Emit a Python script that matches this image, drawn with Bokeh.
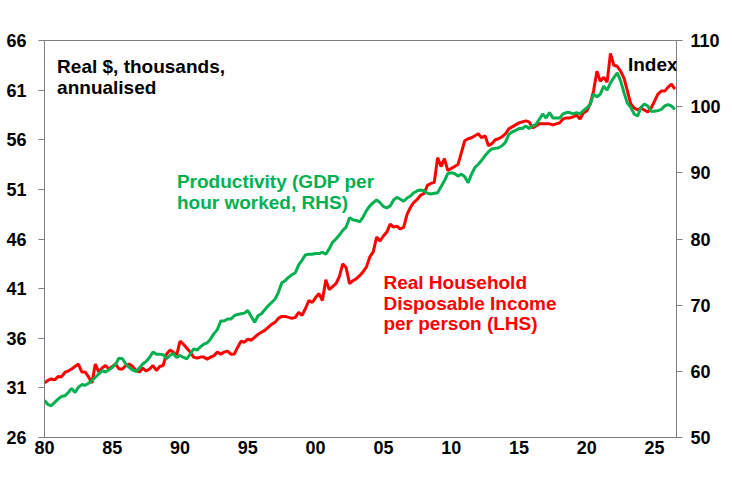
from bokeh.plotting import figure
from bokeh.models import Range1d, LinearAxis, FixedTicker, Label, ColumnDataSource
from bokeh.embed import file_html
from bokeh.resources import INLINE

# ---- data (quarterly, starting 1980 Q1) ----
start_year = 1980
income_lhs = [
    31.5, 31.75, 31.9, 31.8, 32.15, 32.1, 32.55, 32.7, 32.9, 33.15,
    33.4, 32.6, 32.6, 32.1, 31.5, 33.4, 32.6, 33.0, 33.25, 32.9,
    33.15, 33.4, 32.9, 32.9, 33.25, 33.4, 33.15, 32.75, 32.6, 33.0,
    32.7, 32.9, 33.25, 32.75, 33.15, 33.25, 34.4, 34.8, 34.6, 34.3,
    35.7, 35.4, 35.0, 34.6, 34.1, 34.0, 34.1, 34.1, 33.9, 34.1,
    34.25, 34.6, 34.4, 34.6, 34.7, 34.4, 34.4, 35.1, 35.7, 35.6,
    35.9, 35.8, 36.1, 36.4, 36.6, 36.8, 37.1, 37.4, 37.6, 38.0,
    38.2, 38.2, 38.1, 38.0, 38.1, 38.6, 38.3, 39.0, 39.8, 39.6,
    40.1, 40.5, 39.8, 41.9, 40.9, 41.2, 41.5, 42.2, 43.5, 43.1,
    41.5, 41.8, 42.0, 42.3, 42.7, 43.2, 44.2, 44.7, 46.2, 45.8,
    46.3, 46.7, 47.5, 47.2, 47.3, 47.0, 47.2, 48.5, 49.2, 49.7,
    50.0, 50.4, 50.6, 51.4, 51.6, 51.7, 54.2, 53.3, 54.1, 52.9,
    53.1, 53.3, 53.5, 54.7, 55.9, 56.1, 56.2, 56.4, 56.6, 56.2,
    56.4, 55.4, 55.6, 56.0, 56.1, 56.3, 56.6, 57.1, 57.3, 57.5,
    57.7, 57.8, 57.9, 57.8, 57.2, 57.4, 57.6, 57.6, 57.6, 57.6,
    57.5, 57.6, 57.7, 58.1, 58.2, 58.2, 58.3, 58.5, 58.1, 58.7,
    58.9, 59.6, 60.9, 62.9, 61.9, 62.3, 61.8, 64.7, 63.5, 63.4,
    62.9, 62.2, 60.9, 59.6, 59.2, 59.0, 59.2, 59.0, 58.8, 59.2,
    59.9, 60.6, 60.9, 60.9, 61.3, 61.6, 61.1,
]
productivity_rhs = [
    55.6, 55.0, 54.8, 55.3, 55.8, 56.2, 56.3, 56.8, 57.4, 56.8,
    57.6, 58.0, 57.9, 58.2, 58.6, 59.1, 59.6, 60.1, 59.9, 60.2,
    60.6, 61.1, 62.0, 61.9, 61.1, 60.6, 60.2, 60.0, 60.5, 61.1,
    61.5, 62.1, 62.9, 62.6, 62.6, 62.5, 61.9, 62.4, 62.7, 62.1,
    62.4, 62.1, 61.9, 62.6, 63.4, 63.2, 63.7, 64.1, 64.3, 64.9,
    65.7, 66.3, 67.6, 67.6, 67.9, 67.9, 68.4, 68.6, 68.7, 68.8,
    69.2, 68.3, 67.4, 68.4, 68.7, 69.3, 69.9, 70.4, 70.9, 71.9,
    73.4, 73.7, 74.2, 74.6, 74.9, 76.1, 76.8, 77.6, 77.7, 77.7,
    77.8, 77.8, 78.0, 77.7, 78.5, 79.5, 80.0, 80.6, 81.3, 81.8,
    83.2, 82.9, 82.8, 82.6, 83.3, 84.3, 85.0, 85.5, 85.9, 85.5,
    84.9, 84.7, 85.0, 85.9, 86.3, 86.0, 85.7, 86.2, 86.5, 87.0,
    87.3, 87.4, 87.3, 86.9, 86.8, 86.9, 87.0, 87.9, 88.8, 89.9,
    90.0, 89.9, 89.5, 89.8, 89.4, 88.5, 89.8, 90.8, 91.3, 91.9,
    92.6, 93.2, 93.6, 93.7, 93.8, 94.1, 94.6, 95.8, 96.2, 96.4,
    96.7, 96.7, 97.1, 96.7, 97.1, 97.3, 98.1, 98.9, 98.3, 99.1,
    98.3, 98.3, 98.3, 98.9, 99.1, 99.1, 98.9, 99.1, 98.9, 99.4,
    99.8, 100.3, 101.9, 101.5, 101.9, 103.1, 102.5, 103.6, 104.4, 105.1,
    103.9, 102.1, 100.5, 99.9, 98.9, 98.6, 99.9, 100.4, 100.1, 99.3,
    99.3, 99.4, 99.6, 100.1, 100.3, 100.1, 99.6,
]
quarters = [start_year + 0.25 * i for i in range(len(income_lhs))]

lhs_ticks = [26, 31, 36, 41, 46, 51, 56, 61, 66]
rhs_ticks = [50, 60, 70, 80, 90, 100, 110]
year_ticks = [1980, 1985, 1990, 1995, 2000, 2005, 2010, 2015, 2020, 2025]
year_labels = ["80", "85", "90", "95", "00", "05", "10", "15", "20", "25"]

RED = "#FF0000"
GREEN = "#00B050"
FONT = "Liberation Sans"
AXIS_GREY = "#7F7F7F"

p = figure(
    width=723, height=461,
    output_backend="svg", toolbar_location=None,
    x_range=Range1d(1980, 2026.62), y_range=Range1d(26, 66),
    min_border_left=44, min_border_right=44,
    min_border_top=40, min_border_bottom=24,
)
p.extra_y_ranges = {"rhs": Range1d(50, 110)}
p.xgrid.visible = False
p.ygrid.visible = False
p.outline_line_color = AXIS_GREY
p.background_fill_color = "white"
p.border_fill_color = "white"

right_axis = LinearAxis(y_range_name="rhs", ticker=FixedTicker(ticks=rhs_ticks))
p.add_layout(right_axis, "right")

p.yaxis[0].ticker = FixedTicker(ticks=lhs_ticks)
p.xaxis.ticker = FixedTicker(ticks=year_ticks)
p.xaxis.major_label_overrides = {t: l for t, l in zip(year_ticks, year_labels)}

for ax in p.axis:
    ax.axis_line_color = AXIS_GREY
    ax.major_tick_line_color = AXIS_GREY
    ax.minor_tick_line_color = None
    ax.major_tick_in = 0
    ax.major_tick_out = 6
    ax.major_label_standoff = 12
    ax.major_label_text_font = FONT
    ax.major_label_text_font_style = "bold"
    ax.major_label_text_font_size = "18px"
    ax.major_label_text_color = "black"

right_axis.major_tick_out = 6
right_axis.major_label_standoff = 8
p.xaxis.major_tick_out = 0
p.xaxis.major_label_standoff = 3

src = ColumnDataSource(dict(q=quarters, inc=income_lhs, prod=productivity_rhs))
p.line("q", "inc", source=src, line_color=RED, line_width=3)
p.line("q", "prod", source=src, line_color=GREEN, line_width=3, y_range_name="rhs")

def lab(x, y, text, color, align="left"):
    p.add_layout(Label(x=x, y=y, text=text, text_font=FONT, text_font_style="bold",
                       text_font_size="19px", text_color=color,
                       text_baseline="alphabetic", text_align=align))

lab(1980.93, 63.43, "Real $, thousands,", "black")
lab(1980.93, 61.22, "annualised", "black")
lab(1989.77, 51.77, "Productivity (GDP per", GREEN)
lab(1989.77, 49.68, "hour worked, RHS)", GREEN)
lab(2005.0, 41.63, "Real Household", RED)
lab(2005.0, 39.53, "Disposable Income", RED)
lab(2005.0, 37.45, "per person (LHS)", RED)
lab(2026.7, 63.6, "Index", "black", align="right")

open("out.html", "w").write(file_html(p, INLINE))
